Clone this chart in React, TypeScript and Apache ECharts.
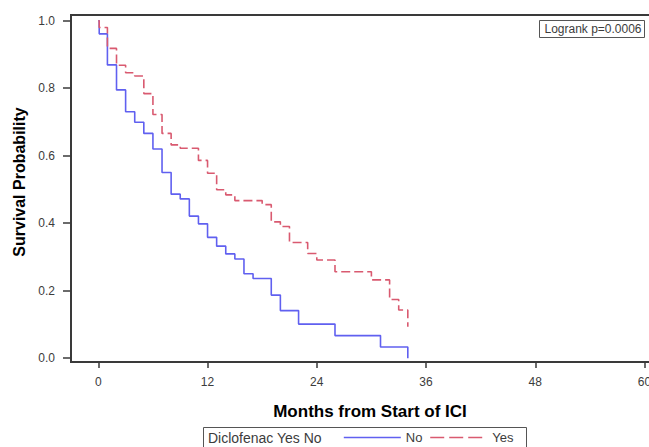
import React, { useEffect, useRef } from "react";
import * as echarts from "echarts";

// Kaplan-Meier step points (months, survival probability)
const noTimes = [0, 0.1, 1, 2, 3, 4, 5, 6, 7, 8, 9, 10, 11, 12, 13, 14, 15, 16, 17, 19, 20, 22, 26, 31, 34];
const noSurv = [1.0, 0.961, 0.869, 0.795, 0.73, 0.699, 0.666, 0.62, 0.55, 0.486, 0.472, 0.421, 0.398, 0.358, 0.332, 0.309, 0.294, 0.25, 0.236, 0.187, 0.141, 0.101, 0.067, 0.033, 0.0];

const yesTimes = [0, 0.1, 1, 2, 3, 4, 5, 6, 7, 8, 9, 11, 12, 13, 14, 15, 18, 19, 20, 21, 23, 24, 26, 30, 32, 33, 34];
const yesSurv = [1.0, 0.98, 0.918, 0.868, 0.846, 0.836, 0.784, 0.722, 0.666, 0.632, 0.622, 0.586, 0.548, 0.499, 0.484, 0.467, 0.455, 0.404, 0.39, 0.343, 0.31, 0.291, 0.256, 0.232, 0.174, 0.143, 0.093];

const xTicks = [0, 12, 24, 36, 48, 60];
const yTicks = [0, 0.2, 0.4, 0.6, 0.8, 1.0];

const seriesNames = ["No", "Yes"];
const legendTitle = "Diclofenac Yes No";
const pValueText = "Logrank p=0.0006";
const xTitle = "Months from Start of ICI";
const yTitle = "Survival Probability";

const SANS = "'Liberation Sans', Arial, sans-serif";
const AXIS_COLOR = "#3a3a3a";
const LABEL_COLOR = "#3c3c3c";
const BLUE = "#6060f0";
const RED = "#d95a70";

export default function App() {
  const ref = useRef<HTMLDivElement>(null);

  useEffect(() => {
    if (!ref.current) return;
    const chart = echarts.init(ref.current, null, { renderer: "svg" });

    const noData = noTimes.map((t, i) => [t, noSurv[i]]);
    const yesData = yesTimes.map((t, i) => [t, yesSurv[i]]);

    chart.setOption({
      animation: false,
      backgroundColor: "#ffffff",
      grid: {
        left: 71,
        top: 15,
        width: 591.7,
        height: 347,
        show: true,
        borderColor: AXIS_COLOR,
        borderWidth: 2,
        backgroundColor: "transparent",
      },
      xAxis: {
        type: "value",
        min: -3,
        max: 62,
        axisLine: { show: true, onZero: false, lineStyle: { color: AXIS_COLOR, width: 2 } },
        axisTick: { show: true, length: 6, customValues: xTicks, lineStyle: { color: AXIS_COLOR, width: 1.5 } },
        axisLabel: {
          customValues: xTicks,
          margin: 14,
          color: LABEL_COLOR,
          fontSize: 12,
          fontFamily: SANS,
          formatter: (v: number) => String(v),
        },
        splitLine: { show: false },
      },
      yAxis: {
        type: "value",
        min: -0.0113,
        max: 1.0169,
        axisLine: { show: true, onZero: false, lineStyle: { color: AXIS_COLOR, width: 2 } },
        axisTick: { show: true, length: 8, customValues: yTicks, lineStyle: { color: AXIS_COLOR, width: 1.5 } },
        axisLabel: {
          customValues: yTicks,
          margin: 16,
          color: LABEL_COLOR,
          fontSize: 12,
          fontFamily: SANS,
          formatter: (v: number) => v.toFixed(1),
        },
        splitLine: { show: false },
      },
      legend: {
        left: 343,
        top: 431,
        padding: 0,
        itemWidth: 57,
        itemHeight: 14,
        itemGap: 7,
        selectedMode: false,
        itemStyle: { opacity: 0 },
        data: [
          { name: seriesNames[0], lineStyle: { type: "solid", width: 1.6 } },
          { name: seriesNames[1], lineStyle: { type: [14, 5], width: 1.6 } },
        ],
        textStyle: { color: LABEL_COLOR, fontSize: 13, fontFamily: SANS },
      },
      series: [
        {
          name: seriesNames[0],
          type: "line",
          step: "end",
          data: noData,
          symbol: "none",
          color: BLUE,
          lineStyle: { color: BLUE, width: 1.6, type: "solid" },
        },
        {
          name: seriesNames[1],
          type: "line",
          step: "end",
          data: yesData,
          symbol: "none",
          color: RED,
          lineStyle: { color: RED, width: 1.6, type: [9, 4] },
        },
      ],
      graphic: [
        {
          type: "text",
          x: 19,
          y: 182,
          rotation: Math.PI / 2,
          style: {
            text: yTitle,
            fill: "#000",
            font: `bold 16px ${SANS}`,
            align: "center",
            verticalAlign: "middle",
          },
        },
        {
          type: "text",
          x: 370,
          y: 411,
          style: {
            text: xTitle,
            fill: "#000",
            font: `bold 17px ${SANS}`,
            align: "center",
            verticalAlign: "middle",
          },
        },
        {
          type: "rect",
          shape: { x: 203.5, y: 427.5, width: 323, height: 30 },
          style: { fill: "none", stroke: "#555", lineWidth: 1 },
        },
        {
          type: "text",
          x: 208,
          y: 438,
          style: {
            text: legendTitle,
            fill: LABEL_COLOR,
            font: `14px ${SANS}`,
            align: "left",
            verticalAlign: "middle",
          },
        },
        {
          type: "rect",
          shape: { x: 539.5, y: 20.5, width: 105, height: 17 },
          style: { fill: "#fff", stroke: "#555", lineWidth: 1 },
        },
        {
          type: "text",
          x: 593,
          y: 29,
          style: {
            text: pValueText,
            fill: LABEL_COLOR,
            font: `12px ${SANS}`,
            align: "center",
            verticalAlign: "middle",
          },
        },
      ],
    });

    return () => chart.dispose();
  }, []);

  return (
    <div style={{ position: "fixed", left: 0, top: 0, width: 649, height: 447, overflow: "hidden" }}>
      <div ref={ref} style={{ width: 700, height: 447 }} />
    </div>
  );
}
